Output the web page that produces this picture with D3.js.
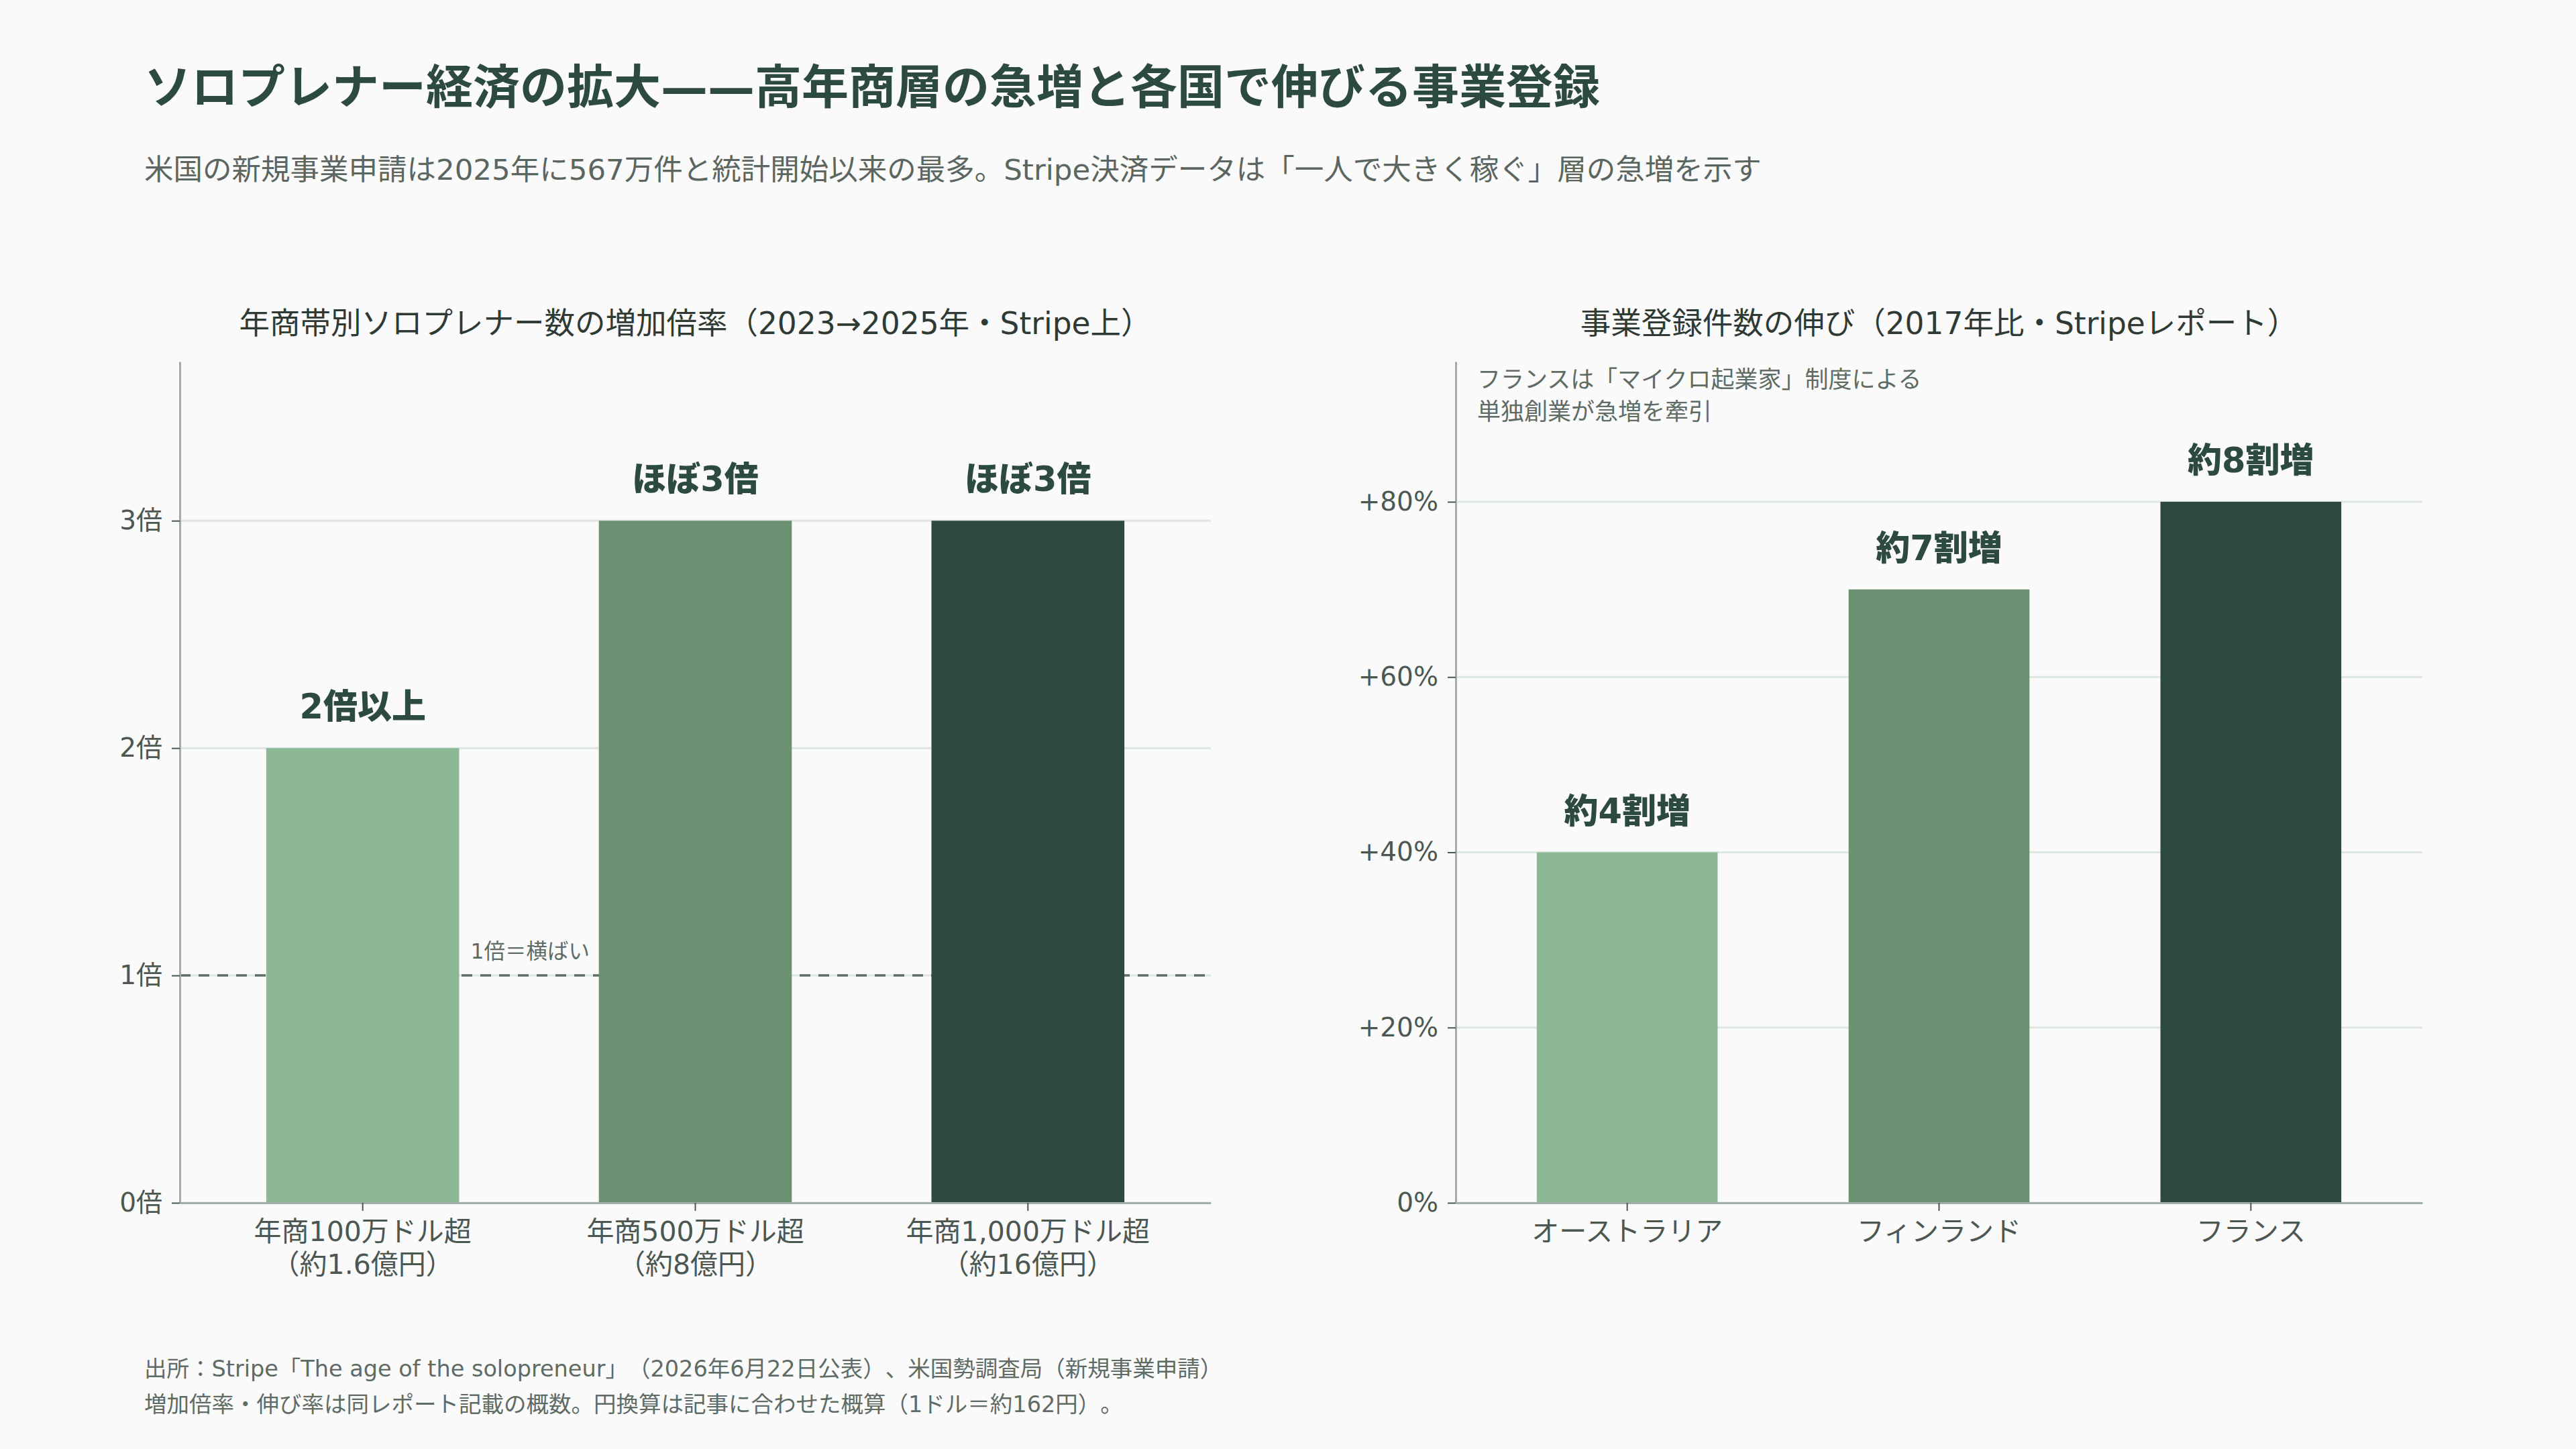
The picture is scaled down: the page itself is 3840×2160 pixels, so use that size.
<!DOCTYPE html>
<html lang="ja">
<head>
<meta charset="UTF-8">
<title>ソロプレナー経済の拡大</title>
<script src="https://cdn.jsdelivr.net/npm/d3@7"></script>
<style>
  html, body { margin: 0; padding: 0; background: #fafafa; }
  svg { display: block; font-family: "DejaVu Sans", "Noto Sans CJK JP", sans-serif; text-spacing-trim: space-all; }
  svg text { text-spacing-trim: space-all; }
  .grid line { stroke: #dde6e1; stroke-width: 3; }
  .axis .domain { stroke: #a0afa6; stroke-width: 3; }
  .axis .tick line { stroke: #4c5752; stroke-width: 2; }
  .axis text { fill: #4c5752; font-family: "DejaVu Sans", "Noto Sans CJK JP", sans-serif; }
  .y-axis text { font-size: 39px; }
  .x-axis text { font-size: 41px; }
</style>
</head>
<body>
<svg id="chart" width="3840" height="2160"></svg>
<script>
// --- data ---
const tiers = ["年商100万ドル超", "年商500万ドル超", "年商1,000万ドル超"];
const tiersYen = ["（約1.6億円）", "（約8億円）", "（約16億円）"];
const tierMultiple = [2, 3, 3];
const tierNotes = ["2倍以上", "ほぼ3倍", "ほぼ3倍"];
const multipleTicks = [0, 1, 2, 3];

const countries = ["オーストラリア", "フィンランド", "フランス"];
const growthPct = [40, 70, 80];
const growthNotes = ["約4割増", "約7割増", "約8割増"];
const pctTicks = [0, 20, 40, 60, 80];

const barColors = ["#8db896", "#6b9072", "#2e4a3e"];

const svg = d3.select("#chart");
const W = 3840, H = 2160;
svg.append("rect").attr("width", W).attr("height", H).attr("fill", "#fafafa");

// headline
svg.append("text").attr("x", 215).attr("y", 155)
  .attr("font-size", 70).attr("font-weight", 700).attr("fill", "#2d4a3e")
  .text("ソロプレナー経済の拡大——高年商層の急増と各国で伸びる事業登録");
svg.append("text").attr("x", 215).attr("y", 268)
  .attr("font-size", 43.5).attr("fill", "#5b6660")
  .text("米国の新規事業申請は2025年に567万件と統計開始以来の最多。Stripe決済データは「一人で大きく稼ぐ」層の急増を示す");

// shared plot box
const plotTop = 539, plotBottom = 1793;

function panel(opts) {
  const g = svg.append("g");
  const x = d3.scaleBand().domain(opts.cats).range([opts.x0, opts.x1])
    .paddingInner(0.42).paddingOuter(0.26);
  const y = d3.scaleLinear().domain([0, opts.yMax]).range([plotBottom, plotTop]);

  g.append("text").attr("x", (opts.x0 + opts.x1) / 2).attr("y", 498)
    .attr("text-anchor", "middle").attr("font-size", 45.5).attr("fill", "#2f3a35")
    .text(opts.title);

  // gridlines
  g.append("g").attr("class", "grid").selectAll("line")
    .data(opts.ticks).join("line")
    .attr("x1", opts.x0).attr("x2", opts.x1)
    .attr("y1", d => y(d)).attr("y2", d => y(d));

  if (opts.before) opts.before(g, x, y);

  // bars
  g.append("g").selectAll("rect")
    .data(opts.values).join("rect")
    .attr("x", (d, i) => x(opts.cats[i]))
    .attr("width", x.bandwidth())
    .attr("y", d => y(d))
    .attr("height", d => y(0) - y(d))
    .attr("fill", (d, i) => barColors[i]);

  // value notes
  g.append("g").selectAll("text")
    .data(opts.notes).join("text")
    .attr("x", (d, i) => x(opts.cats[i]) + x.bandwidth() / 2)
    .attr("y", (d, i) => y(opts.values[i]) - 44)
    .attr("text-anchor", "middle").attr("font-size", 51).attr("font-weight", 900)
    .attr("fill", "#2d4a3e")
    .text(d => d);

  // axes
  const yAxis = g.append("g").attr("class", "axis y-axis")
    .attr("transform", `translate(${opts.x0},0)`)
    .call(d3.axisLeft(y).tickValues(opts.ticks).tickFormat(opts.fmt)
      .tickSize(12).tickSizeOuter(0).tickPadding(14));
  yAxis.select(".domain").attr("stroke-width", 2.5);

  const xAxis = g.append("g").attr("class", "axis x-axis")
    .attr("transform", `translate(0,${plotBottom})`)
    .call(d3.axisBottom(x).tickSize(12).tickSizeOuter(0).tickPadding(16));
  if (opts.sub) {
    xAxis.selectAll(".tick text").each(function(d, i) {
      const t = d3.select(this);
      t.text(null);
      t.append("tspan").attr("x", 0).attr("dy", "0.71em").text(d);
      t.append("tspan").attr("x", 0).attr("dy", "1.2em").text(opts.sub[i]);
    });
  }
  return g;
}

// left: multiples
panel({
  x0: 268, x1: 1805,
  cats: tiers, values: tierMultiple, notes: tierNotes,
  yMax: 3.7, ticks: multipleTicks, fmt: d => d + "倍",
  sub: tiersYen,
  title: "年商帯別ソロプレナー数の増加倍率（2023→2025年・Stripe上）",
  before: (g, x, y) => {
    g.append("line")
      .attr("x1", 268).attr("x2", 1805)
      .attr("y1", y(1)).attr("y2", y(1))
      .attr("stroke", "#5f6f66").attr("stroke-width", 3.5)
      .attr("stroke-dasharray", "16,12");
    g.append("text")
      .attr("x", x(tiers[0]) + x.bandwidth() + 17).attr("y", y(1) - 25)
      .attr("font-size", 31.5).attr("fill", "#5f6b65")
      .text("1倍＝横ばい");
  }
});

// right: growth since 2017
const right = panel({
  x0: 2170, x1: 3611,
  cats: countries, values: growthPct, notes: growthNotes,
  yMax: 96, ticks: pctTicks, fmt: d => d === 0 ? "0%" : "+" + d + "%",
  title: "事業登録件数の伸び（2017年比・Stripeレポート）"
});
right.append("text").attr("x", 2202).attr("y", 578)
  .attr("font-size", 35).attr("fill", "#5f6b65")
  .text("フランスは「マイクロ起業家」制度による");
right.append("text").attr("x", 2202).attr("y", 626)
  .attr("font-size", 35).attr("fill", "#5f6b65")
  .text("単独創業が急増を牽引");

// footer
svg.append("text").attr("x", 215).attr("y", 2052)
  .attr("font-size", 33.5).attr("fill", "#5f6b65")
  .text("出所：Stripe「The age of the solopreneur」（2026年6月22日公表）、米国勢調査局（新規事業申請）");
svg.append("text").attr("x", 215).attr("y", 2105)
  .attr("font-size", 33.5).attr("fill", "#5f6b65")
  .text("増加倍率・伸び率は同レポート記載の概数。円換算は記事に合わせた概算（1ドル＝約162円）。");
</script>
</body>
</html>
